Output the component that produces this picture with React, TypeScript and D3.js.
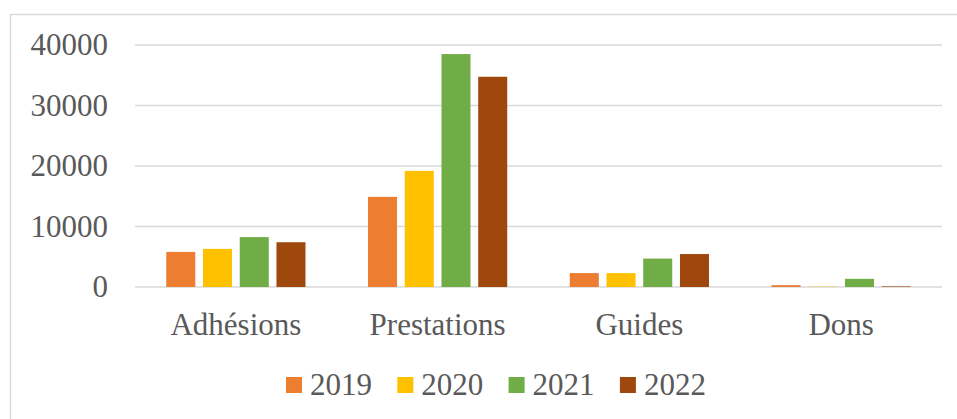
import React, { useEffect, useRef } from 'react';
import * as d3 from 'd3';

// data
const categories = ['Adhésions', 'Prestations', 'Guides', 'Dons'];
const years = ['2019', '2020', '2021', '2022'];
const values2019 = [5800, 14900, 2300, 300];
const values2020 = [6300, 19200, 2300, 50];
const values2021 = [8250, 38500, 4700, 1350];
const values2022 = [7400, 34750, 5450, 100];
const yTicks = [0, 10000, 20000, 30000, 40000];

const colors = ['#ED7D31', '#FFC000', '#70AD47', '#9E480E'];

const seriesValues = [values2019, values2020, values2021, values2022];

const App = () => {
  const ref = useRef<SVGSVGElement | null>(null);

  useEffect(() => {
    document.body.style.margin = '0';
    const svg = d3.select(ref.current);
    svg.selectAll('*').remove();

    const width = 957;
    const height = 419;
    const margins = { top: 45, left: 135, right: 15, bottom: 132 };
    const font = '"Liberation Serif", "Times New Roman", serif';
    const textColor = '#595959';

    // outer chart border (left + top, like the reference)
    svg.append('path')
      .attr('d', `M10.5,${height} V14.5 H${width}`)
      .attr('fill', 'none')
      .attr('stroke', '#D9D9D9')
      .attr('stroke-width', 1.5);

    const x0 = d3.scaleBand()
      .domain(categories)
      .range([margins.left, width - margins.right])
      .paddingInner(0.31)
      .paddingOuter(0.155);

    const x1 = d3.scaleBand()
      .domain(years)
      .range([0, x0.bandwidth()])
      .paddingInner(0.21);

    const yScale = d3.scaleLinear()
      .domain([0, 40000])
      .range([height - margins.bottom, margins.top]);

    // gridlines
    svg.append('g')
      .selectAll('line')
      .data(yTicks)
      .enter()
      .append('line')
      .attr('x1', margins.left)
      .attr('x2', width - margins.right)
      .attr('y1', d => yScale(d))
      .attr('y2', d => yScale(d))
      .attr('stroke', '#D9D9D9')
      .attr('stroke-width', 1.5);

    // y tick labels
    svg.append('g')
      .selectAll('text')
      .data(yTicks)
      .enter()
      .append('text')
      .attr('x', 108)
      .attr('y', d => yScale(d) + 10)
      .attr('text-anchor', 'end')
      .attr('font-family', font)
      .attr('font-size', 31)
      .attr('fill', textColor)
      .text(d => String(d));

    // bars
    const groups = svg.append('g')
      .selectAll('g')
      .data(years)
      .enter()
      .append('g')
      .attr('fill', (d, i) => colors[i]);

    groups.selectAll('rect')
      .data((d, i) => categories.map((c, j) => ({ cat: c, year: d, value: seriesValues[i][j] })))
      .enter()
      .append('rect')
      .attr('x', d => (x0(d.cat) as number) + (x1(d.year) as number))
      .attr('y', d => yScale(d.value))
      .attr('width', x1.bandwidth())
      .attr('height', d => yScale(0) - yScale(d.value));

    // category labels
    svg.append('g')
      .selectAll('text')
      .data(categories)
      .enter()
      .append('text')
      .attr('x', d => (x0(d) as number) + x0.bandwidth() / 2)
      .attr('y', 335)
      .attr('text-anchor', 'middle')
      .attr('font-family', font)
      .attr('font-size', 31)
      .attr('fill', textColor)
      .text(d => d);

    // legend
    const legend = svg.append('g')
      .selectAll('g')
      .data(years)
      .enter()
      .append('g')
      .attr('transform', (d, i) => `translate(${286 + i * 111.3},0)`);

    legend.append('rect')
      .attr('x', 0)
      .attr('y', 377)
      .attr('width', 16)
      .attr('height', 16)
      .attr('fill', (d, i) => colors[i]);

    legend.append('text')
      .attr('x', 24)
      .attr('y', 395)
      .attr('font-family', font)
      .attr('font-size', 31)
      .attr('fill', textColor)
      .text(d => d);
  }, []);

  return (
    <>
      <svg ref={ref} width={957} height={419} style={{ display: 'block', background: '#fff' }}></svg>
    </>
  );
};

export default App;
